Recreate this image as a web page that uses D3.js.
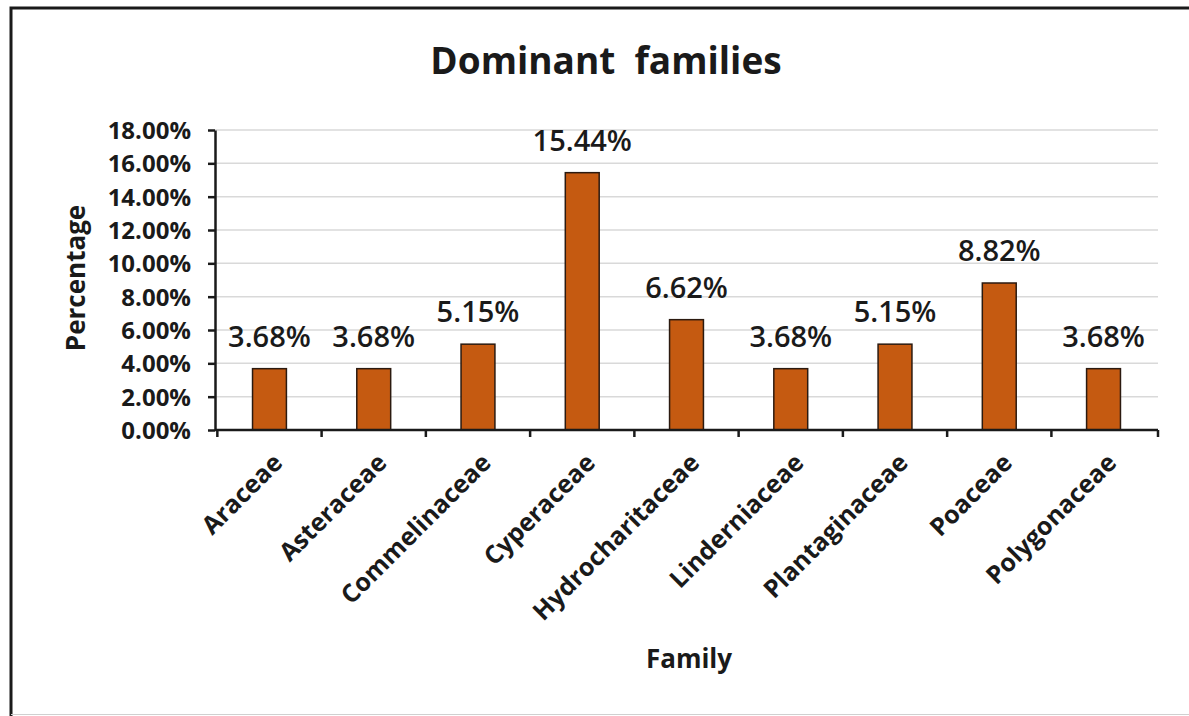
<!DOCTYPE html>
<html>
<head>
<meta charset="utf-8">
<script src="https://cdn.jsdelivr.net/npm/d3@7"></script>
<style>
  body { margin: 0; background: #fff; }
  text { font-family: "Open Sans", Lato, sans-serif; fill: #1a1a1a; }
</style>
</head>
<body>
<div id="chart"></div>
<script>
// chart data
var families = ['Araceae', 'Asteraceae', 'Commelinaceae', 'Cyperaceae', 'Hydrocharitaceae',
  'Linderniaceae', 'Plantaginaceae', 'Poaceae', 'Polygonaceae'];
var percents = [3.68, 3.68, 5.15, 15.44, 6.62, 3.68, 5.15, 8.82, 3.68];
var yTicks = [0, 2, 4, 6, 8, 10, 12, 14, 16, 18];

var W = 1189, H = 716;
var margin = { top: 130, right: 31, bottom: 286, left: 215 },
  width = W - margin.left - margin.right,
  height = H - margin.top - margin.bottom;

var svg = d3.select("#chart")
  .append("svg")
  .attr("width", W)
  .attr("height", H);

// outer frame (right/bottom cut off in the original)
svg.append("path")
  .attr("d", "M11,716 V8 H1189")
  .attr("fill", "none")
  .attr("stroke", "#1a1a1a")
  .attr("stroke-width", 3);
svg.append("line")
  .attr("x1", 11).attr("x2", W).attr("y1", 714.5).attr("y2", 714.5)
  .attr("stroke", "#d0d0d0").attr("stroke-width", 1);

var g = svg.append("g")
  .attr("transform", "translate(" + margin.left + "," + margin.top + ")");

var x = d3.scaleBand()
  .domain(families)
  .range([0, width])
  .paddingInner(0.675)
  .paddingOuter(0.36);

var y = d3.scaleLinear()
  .domain([0, 18])
  .range([height, 0]);

// gridlines
g.selectAll(".grid")
  .data(yTicks.slice(1))
  .enter().append("line")
  .attr("x1", 0).attr("x2", width)
  .attr("y1", function (d) { return y(d); })
  .attr("y2", function (d) { return y(d); })
  .attr("stroke", "#d9d9d9")
  .attr("stroke-width", 1.5);

// bars
g.selectAll(".bar")
  .data(percents)
  .enter().append("rect")
  .attr("x", function (d, i) { return x(families[i]); })
  .attr("y", function (d) { return y(d); })
  .attr("width", x.bandwidth())
  .attr("height", function (d) { return height - y(d); })
  .attr("fill", "#C55A11")
  .attr("stroke", "#2b1a10")
  .attr("stroke-width", 1.5);

// value labels
g.selectAll(".lbl")
  .data(percents)
  .enter().append("text")
  .attr("x", function (d, i) { return x(families[i]) + x.bandwidth() / 2; })
  .attr("y", function (d) { return y(d) - 22; })
  .attr("text-anchor", "middle")
  .style("font-size", "29px")
  .style("font-weight", "600")
  .text(function (d) { return d.toFixed(2) + "%"; });

// y axis
var yAxis = g.append("g")
  .call(d3.axisLeft(y).tickValues(yTicks).tickSize(7).tickSizeOuter(0)
    .tickFormat(function (d) { return d.toFixed(2) + "%"; }));
yAxis.select(".domain").attr("stroke", "#1a1a1a").attr("stroke-width", 2.5);
yAxis.selectAll(".tick line").attr("stroke", "#1a1a1a").attr("stroke-width", 2.5);
yAxis.selectAll(".tick text")
  .attr("x", -24)
  .attr("dy", "0.36em")
  .style("font-size", "24px")
  .style("font-weight", "bold")
  .style("font-family", "'Open Sans', sans-serif")
  .style("fill", "#1a1a1a");

// x axis with ticks at band edges
var xAxis = g.append("g")
  .attr("transform", "translate(0," + height + ")");
xAxis.append("line")
  .attr("x1", 0).attr("x2", width)
  .attr("stroke", "#1a1a1a").attr("stroke-width", 2.5);
var edges = families.map(function (f) { return x(f) - x.step() * x.paddingInner() / 2; });
edges.push(width);
xAxis.selectAll(".xt")
  .data(edges)
  .enter().append("line")
  .attr("x1", function (d) { return d; }).attr("x2", function (d) { return d; })
  .attr("y1", 0).attr("y2", 7)
  .attr("stroke", "#1a1a1a").attr("stroke-width", 2.5);

xAxis.selectAll(".xl")
  .data(families)
  .enter().append("text")
  .attr("transform", function (d) {
    return "translate(" + (x(d) + x.bandwidth() / 2 + 2) + ",22) rotate(-45)";
  })
  .attr("text-anchor", "end")
  .attr("dy", "0.7em")
  .style("font-size", "25px")
  .style("font-weight", "bold")
  .text(function (d) { return d; });

// titles
svg.append("text")
  .attr("x", 606).attr("y", 74)
  .attr("text-anchor", "middle")
  .style("font-size", "37px")
  .style("font-weight", "bold")
  .style("white-space", "pre")
  .text("Dominant  families");

svg.append("text")
  .attr("transform", "translate(85,278) rotate(-90)")
  .attr("text-anchor", "middle")
  .style("font-size", "26px")
  .style("font-weight", "bold")
  .text("Percentage");

svg.append("text")
  .attr("x", 689).attr("y", 668)
  .attr("text-anchor", "middle")
  .style("font-size", "26px")
  .style("font-weight", "bold")
  .text("Family");
</script>
</body>
</html>
